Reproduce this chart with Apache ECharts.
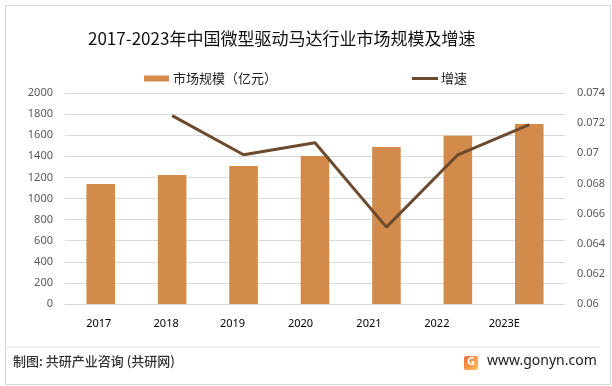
<!DOCTYPE html>
<html>
<head>
<meta charset="utf-8">
<script src="https://cdn.jsdelivr.net/npm/echarts@6/dist/echarts.min.js"></script>
<style>
html,body{margin:0;padding:0;background:#fff;}
#c{width:612px;height:386px;}
</style>
</head>
<body>
<div id="c"></div>
<script>
var categories = ['2017','2018','2019','2020','2021','2022','2023E'];
var marketSize = [1137, 1223, 1308, 1403, 1488, 1595, 1706];
var growthRate = [null, 0.0725, 0.0699, 0.0707, 0.0651, 0.0699, 0.0719];
var leftTicks = [0, 2000, 200];
var rightTicks = [0.06, 0.074, 0.002];

var labelShift = [4, 12, 22, 29, 35, 42, 50];
var rich = {};
categories.forEach(function(c, i){ rich['l'+i] = {padding:[0, labelShift[i], 0, 0], color:'#000', fontSize:11, fontFamily:'Noto Sans'}; });

var chart = echarts.init(document.getElementById('c'));
var font = '"Noto Sans CJK SC","Noto Sans",sans-serif';
chart.setOption({
  backgroundColor:'#fff',
  animation:false,
  title:{text:'2017-2023年中国微型驱动马达行业市场规模及增速', left:88, top:30, padding:0,
    textStyle:{fontSize:17, fontWeight:'normal', color:'#111', fontFamily:font}},
  legend:[
    {top:72, left:144, padding:0, itemWidth:25, itemHeight:6, itemGap:0,
     textStyle:{fontSize:13, color:'#222', fontFamily:font, padding:[0,0,0,-1]},
     data:[{name:'市场规模（亿元）', icon:'rect'}]},
    {top:72, left:412, padding:0, itemWidth:26, itemHeight:3, itemGap:0,
     textStyle:{fontSize:13, color:'#222', fontFamily:font, padding:[0,0,0,-2]},
     data:[{name:'增速', icon:'rect', itemStyle:{color:'#6B4A2E'}}]}
  ],
  grid:{left:65, right:47, top:93, bottom:82},
  xAxis:{type:'category', data:categories,
    axisLine:{lineStyle:{color:'#d9d9d9'}}, axisTick:{show:false},
    axisLabel:{interval:0, margin:14, formatter:function(v,i){return '{l'+i+'|'+v+'}';}, rich:rich}},
  yAxis:[
    {type:'value', min:leftTicks[0], max:leftTicks[1], interval:leftTicks[2],
     axisLine:{show:false}, axisTick:{show:false},
     axisLabel:{color:'#595959', fontSize:11, margin:12, fontFamily:'Noto Sans',
       formatter:function(v){return String(v);}},
     splitLine:{lineStyle:{color:'#d9d9d9'}}},
    {type:'value', min:rightTicks[0], max:rightTicks[1], interval:rightTicks[2],
     axisLine:{show:false}, axisTick:{show:false}, splitLine:{show:false},
     axisLabel:{color:'#595959', fontSize:11, margin:12, fontFamily:'Noto Sans',
       formatter:function(v){return String(+v.toFixed(3));}}}
  ],
  series:[
    {name:'市场规模（亿元）', type:'bar', data:marketSize, barWidth:'40%',
     itemStyle:{color:'#D38B4C'}},
    {name:'增速', type:'line', yAxisIndex:1, data:growthRate, showSymbol:false, symbol:'none',
     lineStyle:{color:'#6B4A2E', width:3}, itemStyle:{color:'#6B4A2E'}}
  ],
  graphic:[
    {type:'rect', left:3, top:3, shape:{width:605, height:379}, style:{fill:'none', stroke:'#d6d6d6', lineWidth:1}, silent:true},
    {type:'line', shape:{x1:5, y1:347, x2:600, y2:347}, style:{stroke:'#e3e3e3', lineWidth:1}},
    {type:'text', left:13, top:355, style:{text:'制图: 共研产业咨询 (共研网)', font:'500 13px "Noto Sans CJK SC"', fill:'#333'}},
    {type:'rect', left:464, top:356, shape:{width:14, height:14, r:2},
     style:{fill:new echarts.graphic.LinearGradient(0,0,1,1,[{offset:0,color:'#F26B3A'},{offset:1,color:'#F9C25C'}])}},
    {type:'text', left:467, top:356, style:{text:'G', font:'bold 11px "Noto Sans"', fill:'#fff'}},
    {type:'text', left:487, top:354, style:{text:'www.gonyn.com', font:'14px "Noto Sans"', fill:'#222'}}
  ]
});
</script>
</body>
</html>
